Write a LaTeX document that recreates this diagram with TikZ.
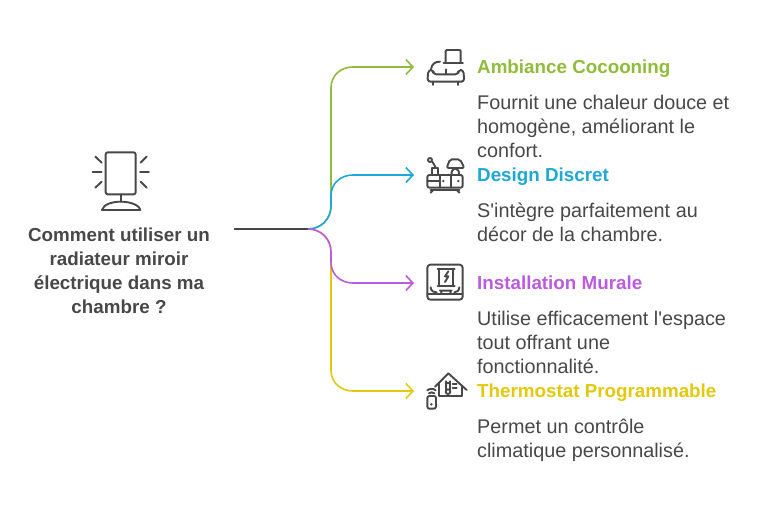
\documentclass[tikz,border=0pt]{standalone}
\usepackage{fontspec}
\setmainfont{Liberation Sans}[Ligatures=TeXOff]
\usetikzlibrary{arrows.meta}
\definecolor{cgreen}{HTML}{8FBC3A}
\definecolor{cblue}{HTML}{1EA8D8}
\definecolor{cpurple}{HTML}{B95CE0}
\definecolor{cyellow}{HTML}{E2C90F}
\definecolor{cdark}{HTML}{484848}
\tikzset{
  conn/.style={line width=1.6pt,line cap=round,-{Straight Barb[length=7pt,width=15pt,line width=1.6pt]}},
  head/.style={font=\bfseries\fontsize{18.8}{24}\selectfont,anchor=base west,inner sep=0pt},
  body/.style={font=\fontsize{19.8}{24}\selectfont,text=cdark,anchor=north west,align=left,inner sep=0pt},
  title/.style={font=\bfseries\fontsize{18.8}{24}\selectfont,text=cdark,align=center,anchor=north,inner sep=0pt},
  ico/.style={draw=cdark,line width=1.9pt,line cap=round,line join=round},
  icoz/.style={scale=1/3}
}
\begin{document}
\begin{tikzpicture}[x=1pt,y=-1pt]
\useasboundingbox (0,0) rectangle (764,512);
\fill[white] (0,0) rectangle (764,512);
% connector anchors
\coordinate (start) at (234,229);
\coordinate (hub) at (308,229);
\coordinate (t1) at (414,67);
\coordinate (t2) at (414,175);
\coordinate (t3) at (414,283);
\coordinate (t4) at (414,391);
% connectors
\draw[conn,cgreen] (hub) .. controls +(13,0) and +(0,13) .. +(23,-23) -- (331,88) .. controls (331,75) and (341,67) .. (353,67) -- (t1);
\draw[conn,cyellow] (hub) .. controls +(13,0) and +(0,-13) .. +(23,23) -- (331,370) .. controls (331,383) and (341,391) .. (353,391) -- (t4);
\draw[conn,cblue] (hub) .. controls +(13,0) and +(0,13) .. +(23,-23) -- (331,196) .. controls (331,183) and (341,175) .. (353,175) -- (t2);
\draw[conn,cpurple] (hub) .. controls +(13,0) and +(0,-13) .. +(23,23) -- (331,262) .. controls (331,275) and (341,283) .. (353,283) -- (t3);
\draw[line width=1.6pt,cdark] (start) -- (hub);
% titles
\node[title] (src) at (119,224) {\strut Comment utiliser un\\radiateur miroir\\électrique dans ma\\chambre ?};
\node[head,text=cgreen] (h1) at (477,73.5) {Ambiance Cocooning};
\node[body] (b1) at (477,92) {\strut Fournit une chaleur douce et\\homogène, améliorant le\\confort.};
\node[head,text=cblue] (h2) at (477,181.5) {Design Discret};
\node[body] (b2) at (477,200) {\strut S'intègre parfaitement au\\décor de la chambre.};
\node[head,text=cpurple] (h3) at (477,289.5) {Installation Murale};
\node[body] (b3) at (477,308) {\strut Utilise efficacement l'espace\\tout offrant une\\fonctionnalité.};
\node[head,text=cyellow] (h4) at (477,397.5) {Thermostat Programmable};
\node[body] (b4) at (477,416) {\strut Permet un contrôle\\climatique personnalisé.};
% mirror icon
\begin{scope}[shift={(80,140)},icoz]
\draw[ico,rounded corners=2pt] (77,37) rectangle (167,163);
\draw[ico] (122,163) -- (122,185);
\draw[ico] (66,210) .. controls (70,192) and (100,185) .. (122,185) .. controls (145,185) and (176,192) .. (181,210) -- cycle;
\draw[ico] (38,96) -- (65,96) (46,50) -- (65,68) (46,143) -- (65,125);
\draw[ico] (180,96) -- (207,96) (182,68) -- (200,50) (182,125) -- (200,143);
\end{scope}
% sofa icon
\begin{scope}[shift={(415,40)},icoz]
\draw[ico,rounded corners=1pt] (92,68) -- (92,30) -- (137,30) -- (137,68);
\draw[ico] (86,70) -- (144,70);
\draw[ico] (75,65) .. controls (60,65) and (50,72) .. (48,88);
\draw[ico,rounded corners=3pt] (55,103) -- (55,90) -- (40,90) -- (37,125) -- (148,125) -- (145,90) -- (130,90) -- (130,103) -- cycle;
\draw[ico] (92,88) -- (92,103);
\draw[ico] (55,125) -- (55,135) (130,125) -- (130,135);
\end{scope}
% cabinet icon
\begin{scope}[shift={(415,150)},icoz]
\draw[ico] (45,30) circle (6);
\draw[ico] (52,35) -- (62,52);
\draw[ico] (51,75) -- (51,53) -- (68,53) -- (68,75);
\draw[ico,rounded corners=2pt] (105,28) -- (135,28) -- (148,54) -- (95,54) -- cycle;
\draw[ico] (110,75) .. controls (108,64) and (114,56) .. (120,55) .. controls (128,56) and (134,64) .. (132,75);
\draw[ico,rounded corners=2pt] (37,75) rectangle (143,113);
\draw[ico] (75,75) -- (75,113) (108,75) -- (108,113) (37,94) -- (75,94);
\fill[cdark] (85,93) circle (4) (130,93) circle (4);
\draw[ico] (47,120) -- (133,120);
\draw[ico] (55,120) -- (47,128) (125,120) -- (133,128);
\end{scope}
% wall icon
\begin{scope}[shift={(415,258)},icoz]
\draw[ico,rounded corners=3pt] (37,20) rectangle (143,125);
\draw[ico] (37,108) -- (143,108);
\draw[ico] (72,32) -- (72,85) (115,32) -- (115,85) (68,32) -- (119,32) (68,85) -- (119,85);
\draw[ico] (100,40) -- (90,55) -- (100,55) -- (90,72);
\draw[ico] (75,98) -- (110,98) (80,98) -- (78,108) (105,98) -- (108,108);
\draw[ico] (47,88) .. controls (48,98) and (54,103) .. (65,103);
\draw[ico] (133,88) .. controls (132,98) and (126,103) .. (118,103);
\end{scope}
% thermostat icon
\begin{scope}[shift={(415,366)},icoz]
\draw[ico] (60,62) -- (100,22) -- (155,72);
\draw[ico] (72,52) -- (72,90) -- (140,90) -- (140,60);
\draw[ico] (93,70) -- (93,46) arc[start angle=180,end angle=0,radius=6] -- (105,70);
\draw[ico] (99,77) circle (7);
\draw[ico] (113,55) -- (125,55) (113,65) -- (125,65);
\draw[ico,rounded corners=2pt] (37,90) rectangle (63,128);
\fill[cdark] (49,115) circle (4);
\draw[ico] (42,82) .. controls (46,78) and (54,78) .. (58,82);
\draw[ico] (37,73) .. controls (44,67) and (56,67) .. (62,73);
\end{scope}
\end{tikzpicture}
\end{document}
